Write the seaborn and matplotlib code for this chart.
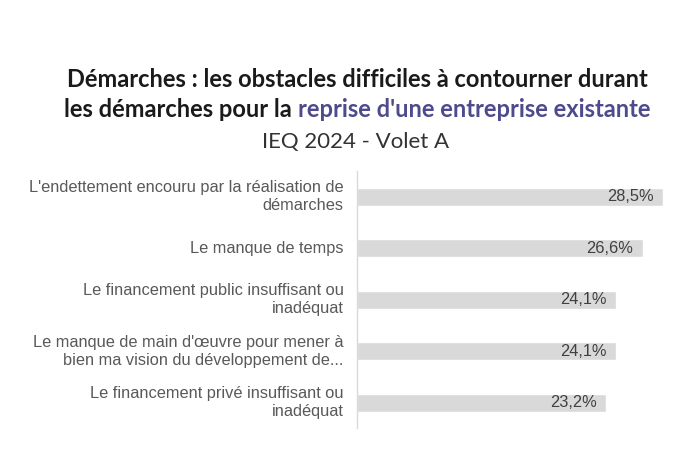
import matplotlib
matplotlib.use("Agg")
import matplotlib.pyplot as plt
import seaborn as sns
import pandas as pd

categories = [
    "L'endettement encouru par la réalisation de\ndémarches",
    "Le manque de temps",
    "Le financement public insuffisant ou\ninadéquat",
    "Le manque de main d'œuvre pour mener à\nbien ma vision du développement de...",
    "Le financement privé insuffisant ou\ninadéquat",
]
values = [28.5, 26.6, 24.1, 24.1, 23.2]
value_labels = ["28,5%", "26,6%", "24,1%", "24,1%", "23,2%"]

title_line1 = "Démarches : les obstacles difficiles à contourner durant"
title_line2a = "les démarches pour la "
title_line2b = "reprise d'une entreprise existante"
title_line3 = "IEQ 2024 - Volet A"

sns.set_theme(style="white")
plt.rcParams["font.family"] = ["Liberation Sans", "DejaVu Sans"]

df = pd.DataFrame({"cat": categories, "val": values})

fig = plt.figure(figsize=(7, 4.5), dpi=100)
ax = fig.add_axes([0.51, 0.048, 0.476, 0.572])
sns.barplot(data=df, x="val", y="cat", color="#d9d9d9", width=0.35,
            saturation=1, ax=ax, orient="h")
ax.set_xlim(0, 31)
ax.set_ylim(4.5, -0.5)
ax.set_xlabel("")
ax.set_ylabel("")
ax.set_xticks([])
ax.set_yticklabels([])
for s in ["top", "right", "bottom"]:
    ax.spines[s].set_visible(False)
ax.spines["left"].set_color("#d9d9d9")
ax.spines["left"].set_linewidth(1.0)
ax.tick_params(axis="y", length=0)

ytrans = ax.get_yaxis_transform()
for i, c in enumerate(categories):
    ax.text(-0.04, i, c, transform=ytrans, ha="right", va="center",
            multialignment="right", fontsize=11.8, color="#595959",
            linespacing=1.25)

for i, (v, t) in enumerate(zip(values, value_labels)):
    ax.text(v - 0.9, i, t, ha="right", va="center", fontsize=11.8, color="#404040")

tfont = ["Lato", "DejaVu Sans"]
fig.text(357 / 700, 1 - 87 / 450, title_line1, ha="center", va="baseline",
         fontsize=17, fontweight="bold", family=tfont, color="#1a1a1a")
renderer = fig.canvas.get_renderer()
ta = fig.text(0, 1 - 117 / 450, title_line2a, ha="left", va="baseline",
              fontsize=17, fontweight="bold", family=tfont, color="#1a1a1a")
tb = fig.text(0, 1 - 117 / 450, title_line2b, ha="left", va="baseline",
              fontsize=17, fontweight="bold", family=tfont, color="#4e4a8c")
wa = ta.get_window_extent(renderer).width
wb = tb.get_window_extent(renderer).width
x0 = 357 - (wa + wb) / 2
ta.set_x(x0 / 700)
tb.set_x((x0 + wa) / 700)
fig.text(356 / 700, 1 - 148 / 450, title_line3, ha="center", va="baseline",
         fontsize=16, family=tfont, color="#333333")

fig.savefig("out.png", dpi=100)
